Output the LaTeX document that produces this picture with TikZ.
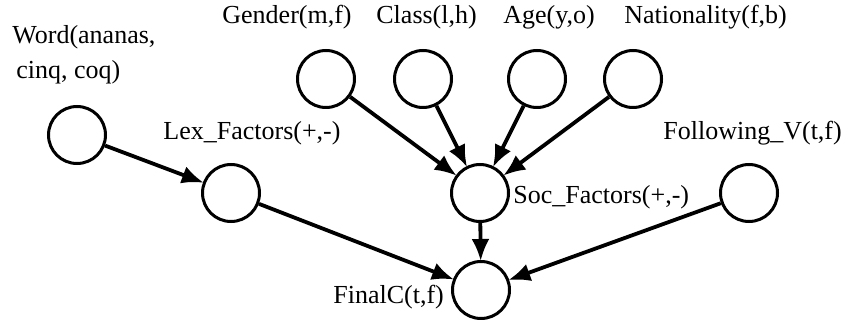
\documentclass[tikz,border=0pt]{standalone}
\usepackage{fontspec}
\setmainfont{Liberation Serif}
\usetikzlibrary{arrows.meta}
\begin{document}
\begin{tikzpicture}[x=0.5pt,y=-0.5pt,
  var/.style={circle,draw,line width=1.5pt,minimum size=28.5pt,inner sep=0pt},
  lbl/.style={anchor=west,inner sep=0pt,font=\fontsize{13}{17.5}\selectfont},
  dep/.style={line width=1.9pt,-{Latex[length=11pt,width=9pt]},shorten >=-0.5pt}]
\useasboundingbox (0,0) rectangle (845,320);
% variable nodes
\node[var] (word) at (77,135) {};
\node[var] (gender) at (326,79) {};
\node[var] (class) at (423,79) {};
\node[var] (age) at (537,79) {};
\node[var] (nat) at (633,79) {};
\node[var] (lex) at (231,193) {};
\node[var] (soc) at (480,193) {};
\node[var] (foll) at (749,193) {};
\node[var] (final) at (481,290) {};
% labels
\node[lbl,align=left] (lword) at (12,54.5) {Word(ananas,\\[0pt]\hspace{2pt}cinq, coq)};
\node[lbl] (lgender) at (222,17) {Gender(m,f)};
\node[lbl] (lclass) at (376,17) {Class(l,h)};
\node[lbl] (lage) at (503,17) {Age(y,o)};
\node[lbl] (lnat) at (624,17) {Nationality(f,b)};
\node[lbl] (llex) at (163,133) {Lex\_Factors(+,-)};
\node[lbl] (lfoll) at (663,133) {Following\_V(t,f)};
\node[lbl] (lsoc) at (513,197) {Soc\_Factors(+,-)};
\node[lbl] (lfinal) at (333,297) {FinalC(t,f)};
% dependencies
\draw[dep] (word) -- (lex);
\draw[dep] (gender) -- (soc);
\draw[dep] (class) -- (soc);
\draw[dep] (age) -- (soc);
\draw[dep] (nat) -- (soc);
\draw[dep] (lex) -- (final);
\draw[dep] (soc) -- (final);
\draw[dep] (foll) -- (final);
\end{tikzpicture}
\end{document}
